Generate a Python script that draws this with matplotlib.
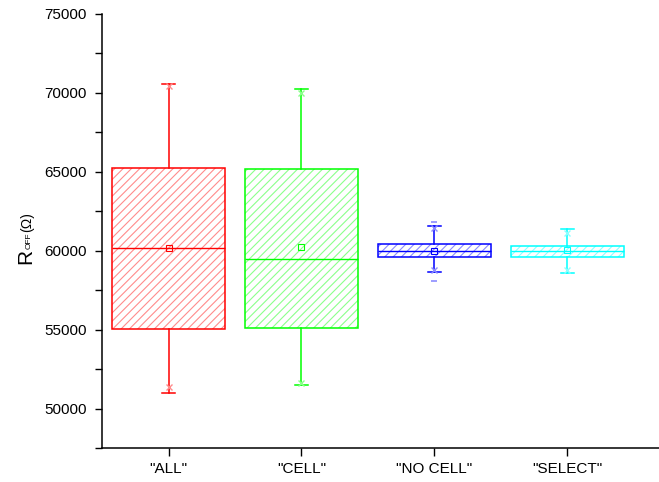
import matplotlib
matplotlib.use("Agg")
import matplotlib.pyplot as plt
from matplotlib.patches import PathPatch
from matplotlib.ticker import MultipleLocator

plt.rcParams['font.family'] = ['Liberation Sans', 'DejaVu Sans']
plt.rcParams['hatch.linewidth'] = 0.8

# data (R_OFF in ohm)
labels = ['"ALL"', '"CELL"', '"NO CELL"', '"SELECT"']
q1 = [55010, 55120, 59580, 59580]
median = [60200, 59470, 59960, 59960]
q3 = [65270, 65150, 60430, 60320]
whisker_low = [51000, 51520, 58630, 58590]
whisker_high = [70540, 70220, 61590, 61380]
means = [60200, 60240, 60000, 60020]
pct_low = [51390, 51650, 58760, 58800]     # 1% markers (x)
pct_high = [70450, 69980, 61450, 61150]    # 99% markers (x)
min_vals = [None, None, 58100, None]        # min/max markers (-)
max_vals = [None, None, 61820, None]

colors = ['#ff0000', '#00ff00', '#0000ff', '#00ffff']
hatch_colors = ['#ff8c8c', '#8cff8c', '#8c8cff', '#8cffff']

fig = plt.figure(figsize=(6.59, 4.82), dpi=100)
ax = fig.add_axes([0.155, 0.0705, 0.845, 0.9005])

stats = []
for i in range(len(labels)):
    stats.append({'q1': q1[i], 'med': median[i], 'q3': q3[i],
                  'whislo': whisker_low[i], 'whishi': whisker_high[i],
                  'mean': means[i], 'fliers': [], 'label': labels[i]})

positions = list(range(1, len(labels) + 1))
bp = ax.bxp(stats, positions=positions, widths=0.85, patch_artist=True,
            showmeans=True, capwidths=0.1)

for i, box in enumerate(bp['boxes']):
    # hatch drawn in a lighter shade, outline in the full colour
    box.set_facecolor('none')
    box.set_edgecolor(hatch_colors[i])
    box.set_hatch('////')
    box.set_linewidth(0)
    outline = PathPatch(box.get_path(), facecolor='none', edgecolor=colors[i],
                        linewidth=1.1, zorder=3)
    ax.add_patch(outline)
    bp['medians'][i].set_color(colors[i])
    bp['medians'][i].set_linewidth(1.0)
    for w in bp['whiskers'][2 * i:2 * i + 2]:
        w.set_color(colors[i])
        w.set_linewidth(1.1)
    for c in bp['caps'][2 * i:2 * i + 2]:
        c.set_color(colors[i])
        c.set_linewidth(1.1)
    m = bp['means'][i]
    m.set_marker('s')
    m.set_markersize(4.5)
    m.set_markerfacecolor('none')
    m.set_markeredgecolor(colors[i])
    m.set_markeredgewidth(0.8)

    ax.plot([positions[i]] * 2, [pct_low[i], pct_high[i]], linestyle='none',
            marker='x', markersize=4.5, color=hatch_colors[i], markeredgewidth=1.0,
            zorder=4)
    if min_vals[i] is not None:
        ax.plot([positions[i]] * 2, [min_vals[i], max_vals[i]], linestyle='none',
                marker='_', markersize=5, color=hatch_colors[i], markeredgewidth=1.2,
                zorder=4)

ax.set_xlim(0.5, 4.69)
ax.set_ylim(47500, 75000)
ax.set_xticks(positions)
ax.set_xticklabels(labels, fontsize=11)
ax.yaxis.set_major_locator(MultipleLocator(5000))
ax.yaxis.set_minor_locator(MultipleLocator(2500))
ax.tick_params(axis='y', which='major', direction='out', length=5, width=1,
               labelsize=11, pad=6)
ax.tick_params(axis='y', which='minor', direction='out', length=5, width=1)
ax.tick_params(axis='x', direction='out', length=5.8, width=1, pad=4)
ax.spines['top'].set_visible(False)
ax.spines['right'].set_visible(False)
ax.spines['left'].set_linewidth(1.1)
ax.spines['bottom'].set_linewidth(1.1)

# y label: big R, small OFF subscript, smaller (Ω); stacked along the rotated baseline
base_x = 31 / 659
y_start = 1 - 264 / 482
parts = [('R', 15), ('OFF', 6), ('(Ω)', 10)]
renderer = fig.canvas.get_renderer()
y_cur = y_start
for txt, size in parts:
    t = fig.text(base_x, y_cur, txt, fontsize=size, rotation=90,
                 rotation_mode='anchor', ha='left', va='baseline')
    bb = t.get_window_extent(renderer=renderer)
    y_cur += bb.height / fig.bbox.height

fig.savefig('out.png', dpi=100)
